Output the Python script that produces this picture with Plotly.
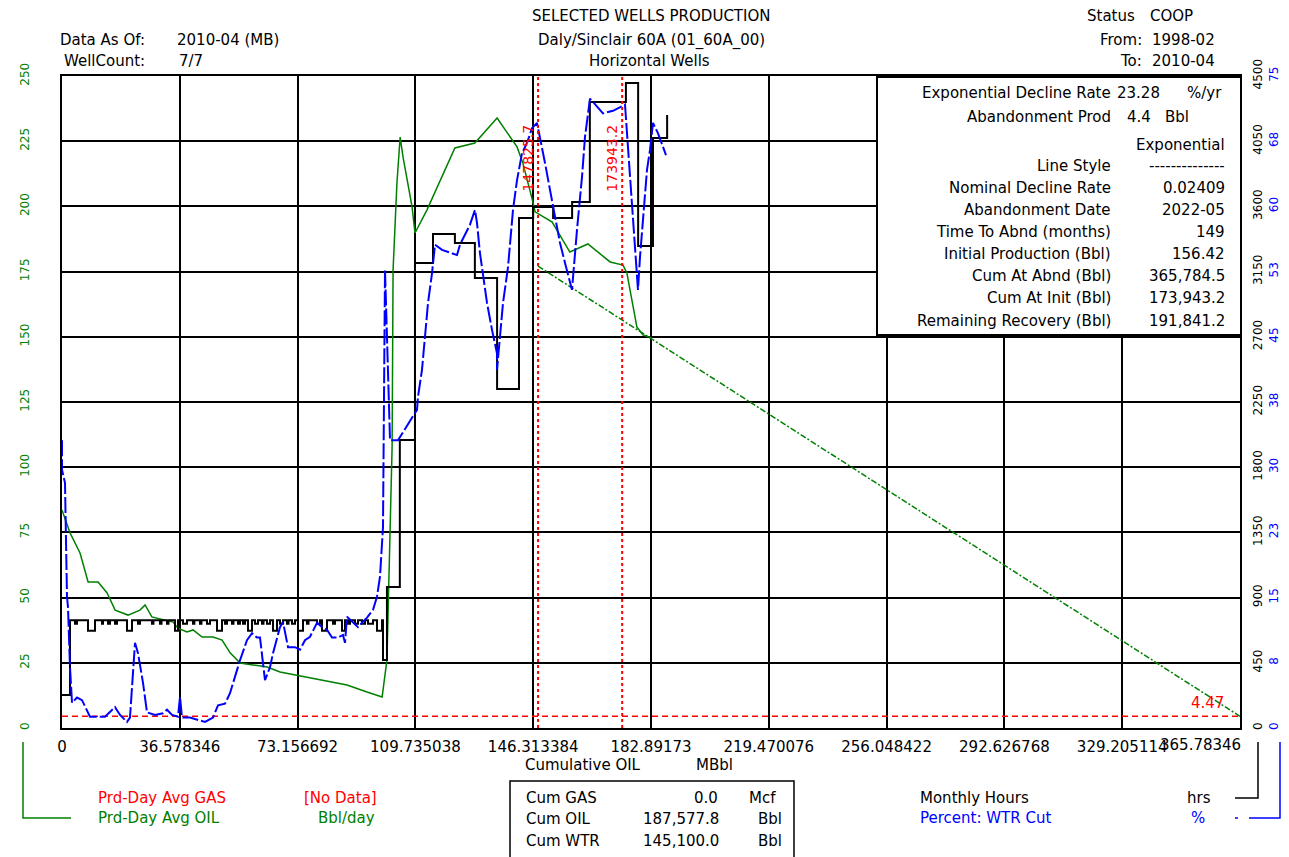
import plotly.graph_objects as go

# ---------------- data ----------------
x_ticks = [0, 36.578346, 73.156692, 109.735038, 146.313384, 182.89173,
           219.470076, 256.048422, 292.626768, 329.205114, 365.78346]
x_tick_text = ["0", "36.578346", "73.156692", "109.735038", "146.313384", "182.89173",
               "219.470076", "256.048422", "292.626768", "329.205114", "365.78346"]

left_ticks = [0, 25, 50, 75, 100, 125, 150, 175, 200, 225, 250]
hrs_ticks = [0, 450, 900, 1350, 1800, 2250, 2700, 3150, 3600, 4050, 4500]
pct_ticks = [0, 7.5, 15, 22.5, 30, 37.5, 45, 52.5, 60, 67.5, 75]
pct_tick_text = ["0", "8", "15", "23", "30", "38", "45", "53", "60", "68", "75"]

# Prd-Day Avg OIL (Bbl/day) vs cumulative oil (MBbl)
oil_cum = [0, 2.5, 5.6, 8.1, 11.2, 14.0, 16.5, 20.5, 24.2, 25.8, 27.9, 34.5, 36.0, 38.8,
           40.7, 43.5, 46.9, 49.7, 52.2, 55.3, 59.3, 63.7, 67.7, 73.0, 81.0, 88.5, 94.7,
           99.4, 100.9, 101.2, 101.8, 102.5, 102.8, 104.0, 105.0, 105.9, 108.7, 109.6,
           113.3, 122.0, 128.2, 135.1, 141.3, 143.1, 146.3, 146.9, 152.2, 157.7, 163.3,
           170.2, 174.2, 175.4, 178.5, 180.4, 183.2]
oil_rate = [83.6, 74.8, 67.1, 56.0, 56.0, 51.8, 45.2, 43.3, 45.2, 47.2, 42.6, 40.6, 38.3, 36.8,
            37.6, 34.9, 34.9, 33.7, 28.8, 24.9, 24.2, 23.4, 21.5, 20.3, 18.4, 16.5, 13.8,
            11.9, 26.1, 40.6, 70.9, 107.7, 175.6, 209.0, 226.6, 218.9, 199.8, 189.8,
            198.6, 222.4, 224.3, 233.9, 222.8, 216.6, 201.3, 197.9, 194.0, 182.5, 185.6,
            178.7, 177.5, 174.5, 153.8, 150.7, 149.5]

# Exponential forecast (rate vs cum)
fc_cum = [147.8257, 173.9432, 365.7845]
fc_rate = [177.1, 156.42, 4.47]
abandon_rate = 4.47
marker_cums = [147.8257, 173.9432]
marker_labels = ["147825.7", "173943.2"]

# Percent WTR cut
wtr_cum = [0, 0, 0.93, 1.55, 1.86, 2.48, 3.11, 4.66, 6.21, 8.69, 13.35, 16.46, 18.01, 20.18,
           21.11, 22.67, 23.60, 25.15, 26.39, 28.88, 31.36, 32.60, 34.16, 36.02, 36.64,
           37.26, 39.75, 44.40, 46.89, 48.44, 50.61, 52.17, 55.27, 57.44, 59.00, 60.55,
           61.48, 62.41, 63.03, 64.59, 65.52, 67.69, 68.62, 70.18, 72.35, 73.90, 75.45,
           77.01, 79.18, 80.73, 82.29, 83.84, 85.70, 87.25, 87.87, 88.50, 90.36, 91.91,
           93.15, 94.71, 96.57, 97.81, 98.74, 99.67, 100.30, 101.85, 104.33, 110.23,
           110.54, 111.78, 112.71, 113.65, 114.89, 115.82, 118.00, 122.65, 123.58,
           126.69, 128.24, 128.86, 129.79, 130.72, 131.97, 133.52, 135.07, 135.07,
           136.00, 136.94, 138.49, 140.04, 141.28, 142.83, 144.39, 145.94, 147.49,
           148.42, 149.98, 151.53, 153.08, 154.63, 156.19, 158.36, 159.91, 161.47,
           162.40, 163.95, 167.99, 171.09, 174.82, 175.75, 176.99, 177.92, 178.85,
           179.48, 180.41, 181.65, 182.58, 183.51, 185.07, 187.55]
wtr_pct = [33.1, 29.7, 28.2, 15.1, 13.9, 7.0, 2.9, 3.5, 3.2, 1.3, 1.3, 2.4, 1.5, 0.7,
           1.2, 9.8, 8.6, 5.2, 1.8, 1.5, 1.7, 2.1, 1.5, 1.3, 3.6,
           1.2, 1.2, 0.7, 1.2, 2.6, 2.8, 4.0, 7.8, 10.1, 10.9, 10.4,
           10.4, 7.0, 5.5, 7.0, 8.6, 11.6, 12.2, 9.3, 9.3, 9.0, 10.1,
           10.5, 12.1, 11.6, 11.3, 10.4, 10.4, 10.7, 9.8, 12.8, 12.1, 11.6,
           12.1, 12.7, 13.6, 15.1, 17.4, 23.1, 52.7, 33.1, 33.1, 36.6,
           38.1, 41.2, 45.0, 48.9, 52.3, 55.6, 55.0, 54.4, 55.6,
           57.9, 59.6, 58.1, 54.6, 51.9, 48.9, 45.8, 43.1, 41.2,
           45.0, 48.9, 53.0, 59.6, 63.0, 66.1, 67.3, 69.0, 69.6,
           68.0, 65.0, 61.9, 58.8, 55.8, 53.5, 50.4, 57.3, 63.4,
           68.0, 72.4, 70.7, 71.0, 71.7, 66.8, 59.6, 54.2, 50.4,
           54.2, 58.8, 64.2, 66.5, 69.6, 68.4, 65.9]

# Monthly hours (step line)
hrs_cum = [0, 2.48,
           4.04, 4.66, 8.07, 10.25, 12.42, 12.73, 14.28, 14.90, 16.46, 17.08,
           20.18, 21.74, 23.60, 24.22, 27.95, 28.40, 30.43, 30.90, 32.60, 33.07,
           35.09, 36.02, 37.57, 38.81, 40.68, 41.10, 42.85, 43.30, 45.02, 45.96,
           48.13, 49.68, 50.61, 51.23, 52.79, 53.25, 54.65, 55.27, 56.20, 56.82,
           57.76, 59.00, 59.93, 60.86, 62.10, 62.57, 63.65, 64.59, 65.52, 66.76,
           67.69, 68.62, 69.86, 70.33, 71.42, 72.35, 73.28, 74.83, 76.07, 76.54,
           79.18, 80.11, 80.73, 82.29, 84.15, 84.77, 86.94, 87.87, 88.81, 89.43,
           90.98, 91.91, 93.15, 94.09, 95.02, 96.57, 97.81, 99.36,
           99.67, 100.9, 104.9, 109.6, 115.2, 122.0, 128.2, 135.1, 141.9, 146.3,
           152.5, 158.4, 163.9, 175.1, 178.9, 183.5, 187.9]
hrs_val = [228, 744,
           720, 744, 672, 744, 720, 744, 720, 744, 720, 744,
           672, 744, 720, 744, 720, 744, 720, 744, 720, 744,
           672, 744, 720, 744, 720, 744, 720, 744, 720, 744,
           672, 744, 720, 744, 720, 744, 720, 744, 720, 744,
           672, 744, 720, 744, 720, 744, 720, 744, 672, 744,
           720, 744, 720, 744, 720, 744, 672, 744, 720, 744,
           720, 744, 672, 744, 720, 744, 672, 744, 720, 744,
           720, 744, 720, 744, 720, 744, 672, 744,
           469, 973, 1988, 3209, 3409, 3347, 3106, 2340, 3520, 3596,
           3520, 3630, 4320, 4451, 3327, 4072, 4231]

box_labels = ["Exponential Decline Rate", "Abandonment Prod", "", "Line Style",
              "Nominal Decline Rate", "Abandonment Date", "Time To Abnd (months)",
              "Initial Production (Bbl)", "Cum At Abnd (Bbl)", "Cum At Init (Bbl)",
              "Remaining Recovery (Bbl)"]
box_values = ["", "", "Exponential", "--------------", "0.02409", "2022-05", "149",
              "156.42", "365,784.5", "173,943.2", "191,841.2"]

GREEN = "#008000"
BLUE = "#0000FF"
RED = "#FF0000"
FONT = "DejaVu Sans"

# ---------------- layout geometry (page pixels; the page body has an 8px margin) ----------------
OFF = 8                     # browser body margin
FW, FH = 1289 - OFF, 857 - OFF
PL, PR, PT, PB = 62, 1240, 76, 728   # plot frame on the page
ML = PL - OFF
MT = PT - OFF
MB = FH - (PB - OFF)
MR = 7
W = FW - ML - MR
H = PB - PT


def px(x):
    return (x - PL) / W


def py(y):
    return (PB - y) / H


fig = go.Figure()

fig.add_trace(go.Scatter(x=oil_cum, y=oil_rate, mode="lines", yaxis="y",
                         line=dict(color=GREEN, width=1.5), hoverinfo="skip"))
fig.add_trace(go.Scatter(x=fc_cum, y=fc_rate, mode="lines", yaxis="y",
                         line=dict(color=GREEN, width=1.5, dash="6px,2px,2px,2px"),
                         hoverinfo="skip"))
fig.add_trace(go.Scatter(x=[x_ticks[0], x_ticks[-1]], y=[abandon_rate, abandon_rate],
                         mode="lines", yaxis="y",
                         line=dict(color=RED, width=1.5, dash="6px,4px"), hoverinfo="skip"))
fig.add_trace(go.Scatter(x=wtr_cum, y=wtr_pct, mode="lines", yaxis="y3",
                         line=dict(color=BLUE, width=2, dash="16px,3px"), hoverinfo="skip"))
fig.add_trace(go.Scatter(x=hrs_cum, y=hrs_val, mode="lines", yaxis="y2",
                         line=dict(color="black", width=2, shape="hv"), hoverinfo="skip"))

for c in marker_cums:
    fig.add_shape(type="line", xref="x", yref="paper", x0=c, x1=c, y0=0, y1=1,
                  line=dict(color=RED, width=2, dash="dot"))
for c, lab in zip(marker_cums, marker_labels):
    fig.add_annotation(x=c, xref="x", y=py(123), yref="paper", text=lab, textangle=-90,
                       showarrow=False, xshift=-11, font=dict(color=RED, size=14, family=FONT))

fig.add_annotation(x=x_ticks[-1], xref="x", y=abandon_rate, yref="y", text="4.47",
                   xanchor="right", yanchor="middle", showarrow=False, xshift=-14, yshift=13,
                   font=dict(color=RED, size=15, family=FONT))

# last x tick label, right aligned to the frame
fig.add_annotation(x=x_ticks[-1], xref="x", y=py(745), yref="paper", text=x_tick_text[-1],
                   xanchor="right", yanchor="middle", showarrow=False, xshift=3,
                   font=dict(color="black", size=15, family=FONT))


def ann(text, x, y, anchor="left", color="black", size=15):
    fig.add_annotation(x=px(x), y=py(y), xref="paper", yref="paper", text=text,
                       xanchor=anchor, yanchor="middle", showarrow=False,
                       font=dict(color=color, size=size, family=FONT))


# header
ann("Data As Of:", 147, 40, "right")
ann("2010-04 (MB)", 175, 40)
ann("WellCount:", 147, 61, "right")
ann("7/7", 177, 61)
ann("SELECTED WELLS PRODUCTION", 651, 16, "center")
ann("Daly/Sinclair 60A (01_60A_00)", 651, 40, "center")
ann("Horizontal Wells", 649, 61, "center")
ann("Status", 1137, 16, "right")
ann("COOP", 1148, 16)
ann("From:", 1144, 40, "right")
ann("1998-02", 1150, 40)
ann("To:", 1144, 61, "right")
ann("2010-04", 1150, 61)

# info box
fig.add_shape(type="rect", xref="paper", yref="paper", x0=px(877), x1=px(1241),
              y0=py(335), y1=py(77), fillcolor="white", line=dict(color="black", width=2),
              layer="above")
rows_y = [93, 117, 145, 166, 188, 210, 232, 254, 276, 298, 321]
for lab, val, yy in zip(box_labels, box_values, rows_y):
    if lab:
        ann(lab, 1113, yy, "right")
    if val:
        ann(val, 1227, yy, "right")
ann("23.28", 1162, 93, "right")
ann("%/yr", 1185, 93)
ann("4.4", 1153, 117, "right")
ann("Bbl", 1163, 117)

# bottom titles / legend
ann("Cumulative OIL", 523, 765)
ann("MBbl", 694, 765)
ann("Prd-Day Avg GAS", 96, 798, color=RED)
ann("[No Data]", 379, 798, "right", color=RED)
ann("Prd-Day Avg OIL", 96, 818, color=GREEN)
ann("Bbl/day", 377, 818, "right", color=GREEN)

fig.add_shape(type="rect", xref="paper", yref="paper", x0=px(510), x1=px(794),
              y0=py(875), y1=py(781), line=dict(color="black", width=1.5))
ann("Cum GAS", 524, 798)
ann("0.0", 720, 798, "right")
ann("Mcf", 747, 798)
ann("Cum OIL", 524, 819)
ann("187,577.8", 721, 819, "right")
ann("Bbl", 756, 819)
ann("Cum WTR", 524, 841)
ann("145,100.0", 721, 841, "right")
ann("Bbl", 756, 841)

ann("Monthly Hours", 918, 798)
ann("hrs", 1185, 798)
ann("Percent: WTR Cut", 918, 818, color=BLUE)
ann("%", 1189, 818, color=BLUE)


def bracket(points, color, width=1.5):
    path = "M " + " L ".join(f"{px(a):.5f},{py(b):.5f}" for a, b in points)
    fig.add_shape(type="path", xref="paper", yref="paper", path=path,
                  line=dict(color=color, width=width))


bracket([(23, 742), (23, 818), (71, 818)], GREEN)
bracket([(1258, 742), (1258, 798), (1235, 798)], "black")
bracket([(1280, 742), (1280, 818), (1249, 818)], BLUE)
bracket([(1235, 818), (1238, 818)], BLUE)

axis_common = dict(zeroline=False, ticks="", showline=False, automargin=False)

fig.update_layout(
    width=FW, height=FH,
    margin=dict(l=ML, r=MR, t=MT, b=MB, pad=0, autoexpand=False),
    paper_bgcolor="white", plot_bgcolor="white",
    showlegend=False,
    font=dict(family=FONT, size=15, color="black"),
    xaxis=dict(domain=[0, (PR - PL) / W], range=[x_ticks[0], x_ticks[-1]],
               tickmode="array", tickvals=x_ticks[:-1], ticktext=x_tick_text[:-1],
               tickangle=0, showgrid=True, gridcolor="black", gridwidth=1.5,
               zeroline=False, ticks="", showline=True, linecolor="black", linewidth=2,
               mirror=True, ticklabelstandoff=4, automargin=False,
               tickfont=dict(size=15, color="black", family=FONT)),
    yaxis=dict(range=[0, 250], tickmode="array", tickvals=left_ticks, tickangle=-90,
               showgrid=True, gridcolor="black", gridwidth=1.5, zeroline=False, ticks="",
               showline=True, linecolor="black", linewidth=2, mirror=True,
               ticklabelstandoff=26, automargin=False,
               tickfont=dict(size=12, color=GREEN, family=FONT)),
    yaxis2=dict(range=[0, 4500], overlaying="y", side="right", anchor="x",
                tickmode="array", tickvals=hrs_ticks, tickangle=-90, showgrid=False,
                ticklabelstandoff=9,
                tickfont=dict(size=12, color="black", family=FONT), **axis_common),
    yaxis3=dict(range=[0, 75], overlaying="y", side="right", anchor="free",
                position=px(1263), tickmode="array", tickvals=pct_ticks,
                ticktext=pct_tick_text, tickangle=-90, showgrid=False,
                ticklabelstandoff=2,
                tickfont=dict(size=12, color=BLUE, family=FONT), **axis_common),
)

fig.write_html("out.html")
